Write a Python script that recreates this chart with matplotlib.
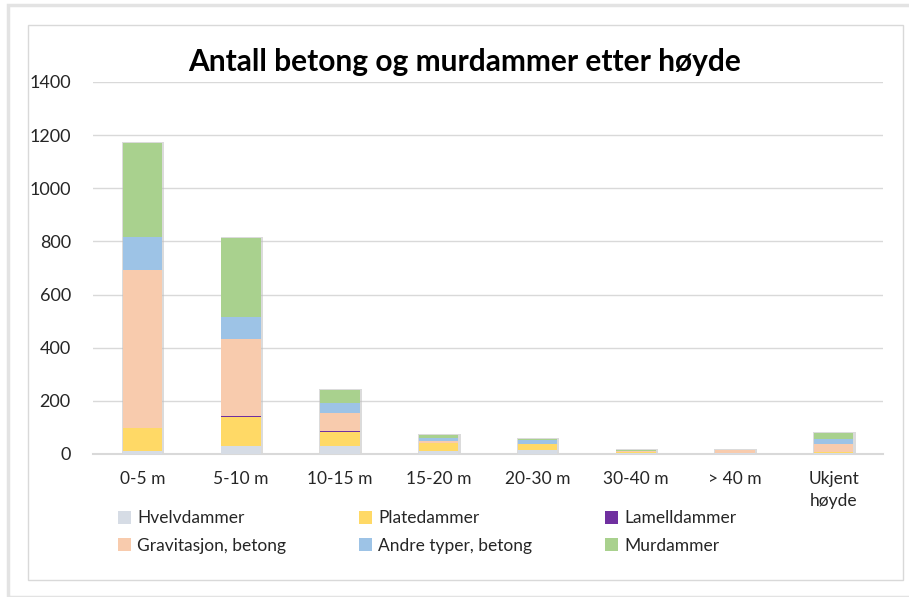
import matplotlib
matplotlib.use('Agg')
import matplotlib.pyplot as plt
import matplotlib.patches as patches
import numpy as np

# Data
categories = ['0-5 m', '5-10 m', '10-15 m', '15-20 m', '20-30 m', '30-40 m', '> 40 m', 'Ukjent\nhøyde']
hvelv = [10, 30, 30, 12, 16, 5, 2, 3]
plate = [88, 108, 52, 28, 20, 3, 1, 3]
lamell = [0, 5, 4, 0, 0, 0, 0, 0]
gravitasjon = [596, 289, 67, 10, 3, 2, 12, 32]
andre = [123, 82, 38, 12, 12, 3, 0, 18]
mur = [354, 299, 50, 11, 4, 2, 0, 22]

series_names = ['Hvelvdammer', 'Platedammer', 'Lamelldammer',
                'Gravitasjon, betong', 'Andre typer, betong', 'Murdammer']
series = [hvelv, plate, lamell, gravitasjon, andre, mur]
colors = ['#D6DCE5', '#FFD966', '#7030A0', '#F8CBAD', '#9DC3E6', '#A9D18E']

font = 'Lato'
text_color = '#262626'

fig = plt.figure(figsize=(9.09, 5.97), dpi=100)

# Chart frame (outer shadow + inner border)
fig.patches.append(patches.Rectangle((8 / 909, 0), 1, 1 - 5 / 597, transform=fig.transFigure,
                                     facecolor='none', edgecolor='#e3e3e3', lw=2.5, zorder=-2))
fig.patches.append(patches.Rectangle((28 / 909, (597 - 580) / 597), 875 / 909, 555 / 597,
                                     transform=fig.transFigure, facecolor='white',
                                     edgecolor='#d9d9d9', lw=1.0, zorder=-1))

ax = fig.add_axes([93 / 909, (597 - 454) / 597, 790 / 909, 372 / 597])
ax.set_facecolor('none')
ax.set_zorder(1)

x = np.arange(len(categories))
width = 0.40

# soft shadow behind the stacks
totals = np.sum(np.array(series), axis=0)
ax.bar(x + 0.008, totals + 4, width=width + 0.03, color='#bfbfbf', alpha=0.55,
       zorder=2, linewidth=0)

bottom = np.zeros(len(categories))
handles = []
for name, vals, col in zip(series_names, series, colors):
    b = ax.bar(x, vals, width=width, bottom=bottom, color=col, label=name,
               zorder=3, linewidth=0)
    handles.append(b)
    bottom += np.array(vals)

ax.set_ylim(0, 1400)
ax.set_xlim(-0.5, len(categories) - 0.5)
ax.set_yticks(range(0, 1401, 200))
ax.yaxis.grid(True, color='#d9d9d9', lw=1.0, zorder=0)
ax.set_axisbelow(True)
for s in ['top', 'right', 'left']:
    ax.spines[s].set_visible(False)
ax.spines['bottom'].set_color('#d9d9d9')
ax.spines['bottom'].set_linewidth(1.5)
ax.tick_params(axis='both', length=0, colors=text_color)
ax.tick_params(axis='y', pad=16)
ax.tick_params(axis='x', pad=12)
ax.set_xticks(x)
ax.set_xticklabels(categories, fontsize=12.5, family=font, va='top', linespacing=1.5)
for lbl in ax.get_yticklabels():
    lbl.set_fontsize(13)
    lbl.set_family(font)

fig.text(465 / 909, 1 - 62 / 597, 'Antall betong og murdammer etter høyde',
         ha='center', va='center', fontsize=21.5, fontweight='bold', family=font, color='black')

# legend filled row by row (matplotlib fills by column)
order = [0, 3, 1, 4, 2, 5]
leg = fig.legend(handles=[handles[i] for i in order], labels=[series_names[i] for i in order],
                 loc='center left', bbox_to_anchor=(118 / 909, 1 - 532 / 597), ncol=3,
                 frameon=False, prop={'family': font, 'size': 12.5}, handlelength=0.75,
                 handleheight=0.75, handletextpad=0.35, columnspacing=4.2, labelspacing=0.65,
                 borderaxespad=0, borderpad=0)
for t in leg.get_texts():
    t.set_color(text_color)

plt.savefig('out.png', dpi=100)
plt.close()
